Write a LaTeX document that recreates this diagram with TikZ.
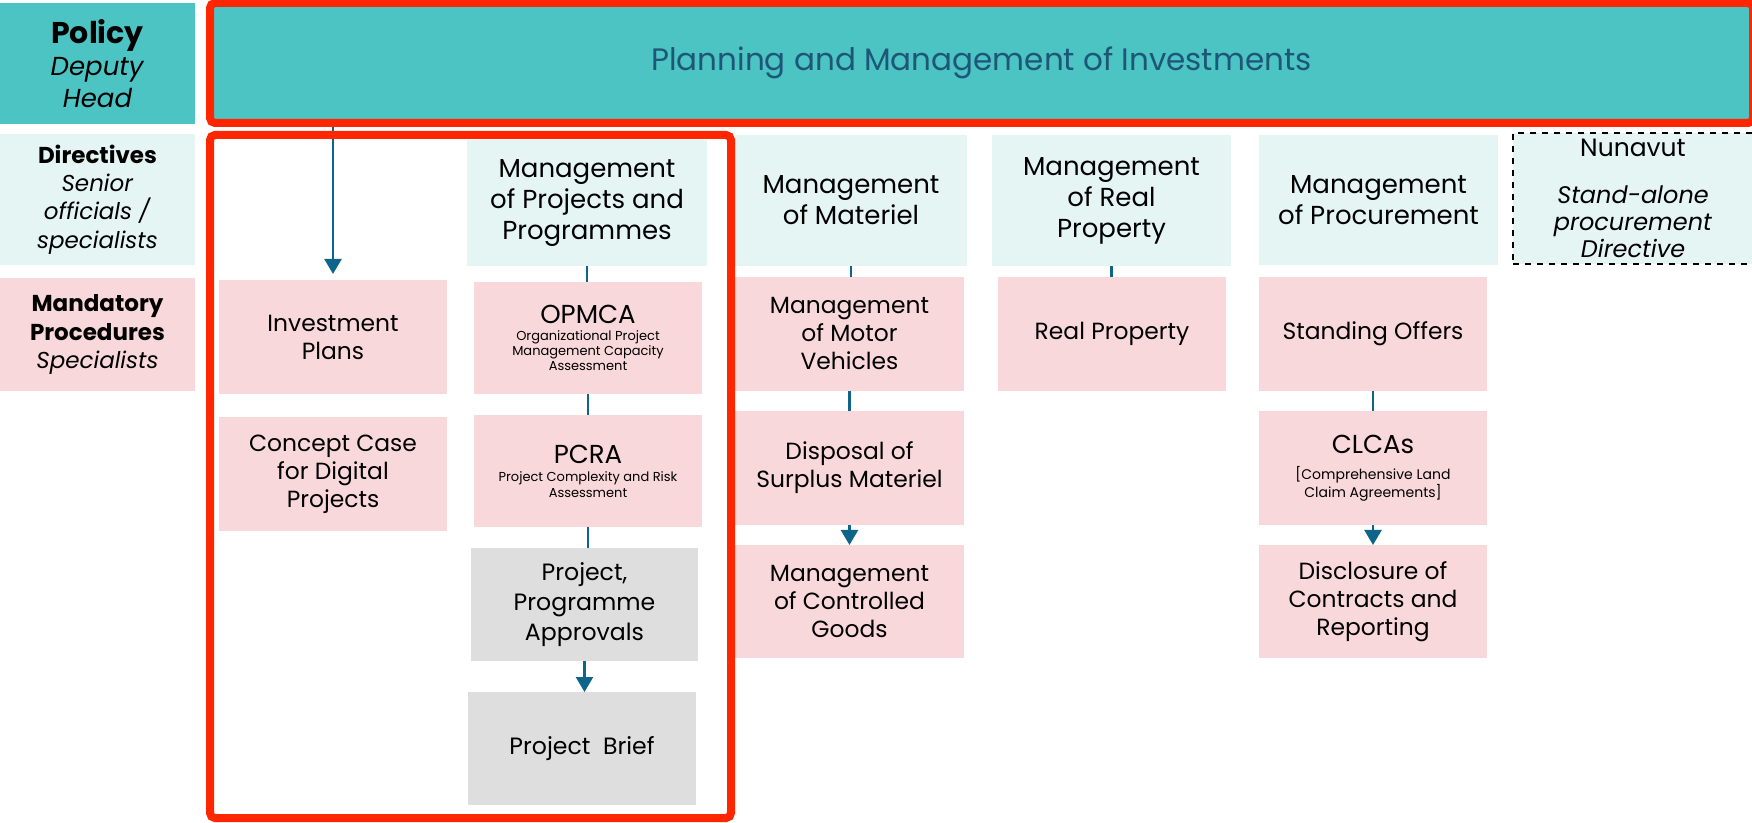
\documentclass[tikz,border=0pt]{standalone}
\usepackage{fontspec}
\setmainfont{Poppins}
\usetikzlibrary{arrows.meta}

\definecolor{tealdark}{HTML}{4BC4C3}
\definecolor{tealpale}{HTML}{E4F5F4}
\definecolor{pinkbox}{HTML}{F9D8DB}
\definecolor{greybox}{HTML}{DEDEDE}
\definecolor{redframe}{HTML}{FF2600}
\definecolor{linkblue}{HTML}{0E6489}
\definecolor{titleblue}{HTML}{1D5677}

\newcommand\acro{\fontsize{13}{15}\selectfont}
\newcommand\finetext[1]{\fontsize{#1}{7.4}\selectfont}

\tikzset{
  cell/.style={anchor=north west, inner sep=2pt, outer sep=0pt, align=center},
  legend/.style={cell, minimum width=97.5pt, font=\fontsize{11.5}{14.2}\selectfont},
  dirbox/.style={cell, fill=tealpale, minimum width=119.5pt, minimum height=65.5pt,
    font=\fontsize{13}{15.5}\selectfont},
  procbox/.style={cell, fill=pinkbox, minimum width=114pt, minimum height=57pt,
    font=\fontsize{11.7}{14}\selectfont},
  greyproc/.style={procbox, fill=greybox, font=\fontsize{11.8}{14.8}\selectfont},
  redbox/.style={draw=redframe, line width=4pt, rounded corners=2.5pt},
  link/.style={draw=linkblue, line width=1.2pt},
  linkarrow/.style={link, -{Triangle[width=8.5pt,length=7.5pt]}}
}

\begin{document}
\begin{tikzpicture}[x=0.5pt, y=-0.5pt]
    \useasboundingbox (0,0) rectangle (1752,823);

    % niveaux
    \node[legend, fill=tealdark, minimum height=60.5pt, font=\fontsize{13}{16}\selectfont] (policy) at (0,3)
        {\textbf{\fontsize{15}{16}\selectfont Policy}\\\textit{Deputy}\\\textit{Head}};
    \node[legend, fill=tealpale, minimum height=65.5pt] (directives) at (0,134)
        {\textbf{Directives}\\\textit{Senior}\\\textit{officials /}\\\textit{specialists}};
    \node[legend, fill=pinkbox, minimum height=56.5pt] (mandatory) at (0,278)
        {\textbf{Mandatory}\\\textbf{Procedures}\\\textit{Specialists}};

    % politique
    \node[cell, redbox, fill=tealdark, outer sep=2pt, minimum width=771.5pt, minimum height=60pt,
        text=titleblue, font=\fontsize{15.5}{18}\selectfont] (pmi) at (206,-1)
        {\raisebox{-1.75pt}{Planning and Management of Investments}};

    % colonne investissements
    \node[procbox] (invplan) at (219,280) {Investment\\Plans};
    \node[procbox] (concept) at (219,417) {Concept Case\\for Digital\\Projects};

    % colonne projets
    \node[dirbox, minimum width=120pt, minimum height=63pt] (mpp) at (467,140)
        {Management\\of Projects and\\Programmes};
    \node[procbox, minimum height=56pt] (opmca) at (474,282)
        {\acro OPMCA\\[-5.5pt]\finetext{6.5}Organizational Project\\[-6.6pt]\finetext{6.5}Management Capacity\\[-6.4pt]\finetext{6.5}Assessment};
    \node[procbox, minimum height=56pt] (pcra) at (474,415)
        {\acro PCRA\\[-5pt]\finetext{6.5}Project Complexity and Risk\\[-6pt]\finetext{6.5}Assessment};
    \node[greyproc, minimum width=113.5pt, minimum height=56.5pt] (approvals) at (471,548)
        {Project,\\Programme\\Approvals};
    \node[greyproc, minimum height=56.5pt] (brief) at (468,692) {Project~~Brief};

    % colonne materiel
    \node[dirbox, minimum width=116pt] (materiel) at (735,135) {Management\\of Materiel};
    \node[procbox, minimum width=114.5pt] (motor) at (735,277) {Management\\of Motor\\Vehicles};
    \node[procbox, minimum width=114.5pt] (disposal) at (735,411) {Disposal of\\Surplus Materiel};
    \node[procbox, minimum width=114.5pt, minimum height=56.5pt] (controlled) at (735,545)
        {Management\\of Controlled\\Goods};

    % colonne biens immobiliers
    \node[dirbox] (mrealprop) at (992,135) {Management\\of Real\\Property};
    \node[procbox] (realprop) at (998,277) {Real Property};

    % colonne approvisionnement
    \node[dirbox, minimum height=65pt] (procurement) at (1259,135) {Management\\of Procurement};
    \node[procbox] (standing) at (1259,277) {Standing Offers};
    \node[procbox] (clcas) at (1259,411)
        {\acro CLCAs\\[-1pt]\finetext{7}[Comprehensive Land\\[-5pt]\finetext{7}Claim Agreements]};
    \node[procbox, minimum height=56.5pt] (disclosure) at (1259,545)
        {Disclosure of\\Contracts and\\Reporting};

    \node[dirbox, draw=black, dashed, line width=0.8pt, minimum width=120pt,
        font=\fontsize{12}{13.5}\selectfont] (nunavut) at (1513,133)
        {{\fontsize{12.5}{13}\selectfont Nunavut}\\[10pt]\textit{Stand-alone}\\\textit{procurement}\\\textit{Directive}};

    % liens
    \draw[linkarrow, shorten >=3pt] (invplan.north |- pmi.south) -- (invplan.north);
    \draw[link] (mpp.south) -- (mpp.south |- opmca.north);
    \draw[link] (opmca.south) -- (opmca.south |- pcra.north);
    \draw[link] (pcra.south) -- (pcra.south |- approvals.north);
    \draw[linkarrow] (approvals.south) -- (approvals.south |- brief.north);
    \draw[link] (materiel.south) -- (materiel.south |- motor.north);
    \draw[link] (motor.south) -- (disposal.north);
    \draw[linkarrow] (disposal.south) -- (controlled.north);
    \draw[link] (mrealprop.south) -- (mrealprop.south |- realprop.north);
    \draw[link] (standing.south) -- (clcas.north);
    \draw[linkarrow] (clcas.south) -- (disclosure.north);

    % cadre
    \draw[redbox] (210,135) rectangle (731,818);
\end{tikzpicture}
\end{document}
